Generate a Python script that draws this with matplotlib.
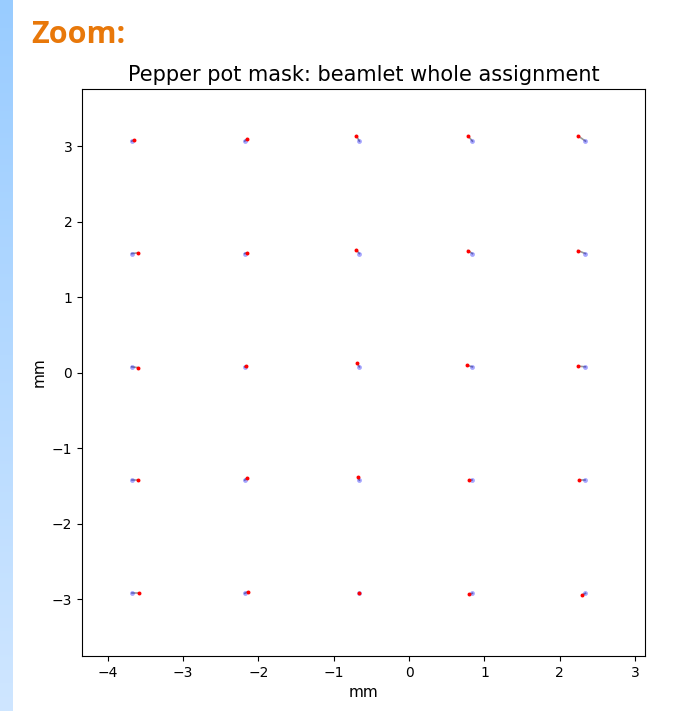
import numpy as np
import matplotlib
matplotlib.use("Agg")
import matplotlib.pyplot as plt
from matplotlib.colors import LinearSegmentedColormap

# Mask hole (reference) grid positions, mm
hole_x = [-3.68, -2.18, -0.66, 0.84, 2.34]
hole_y = [3.07, 1.58, 0.08, -1.42, -2.92]

# Measured beamlet centroids (red), row by row (top to bottom), mm
beam_x = [
    [-3.65, -2.15, -0.70, 0.78, 2.24],
    [-3.60, -2.15, -0.70, 0.78, 2.24],
    [-3.60, -2.16, -0.69, 0.77, 2.24],
    [-3.60, -2.15, -0.68, 0.80, 2.26],
    [-3.58, -2.14, -0.66, 0.80, 2.30],
]
beam_y = [
    [3.08, 3.10, 3.14, 3.14, 3.14],
    [1.59, 1.59, 1.63, 1.62, 1.62],
    [0.07, 0.09, 0.13, 0.10, 0.09],
    [-1.42, -1.39, -1.38, -1.42, -1.42],
    [-2.92, -2.90, -2.91, -2.93, -2.94],
]

fig = plt.figure(figsize=(6.81, 7.11), dpi=100)

# Left gradient strip
strip = fig.add_axes([0, 0, 12 / 681, 1])
cmap = LinearSegmentedColormap.from_list("strip", ["#99CCFF", "#CFE6FF"])
strip.imshow(np.linspace(0, 1, 256).reshape(-1, 1), aspect="auto", cmap=cmap)
strip.axis("off")

fig.text(31 / 681, 1 - 35 / 711, "Zoom:", color="#E8780A", fontsize=22,
         fontweight="bold", family="Open Sans", va="center", ha="left")

ax = fig.add_axes([82 / 681, 1 - 656 / 711, 563 / 681, 567 / 711])

for i, hy in enumerate(hole_y):
    for j, hx in enumerate(hole_x):
        bx, by = beam_x[i][j], beam_y[i][j]
        ax.plot([hx, bx], [hy, by], color="black", alpha=0.4, lw=1.2, zorder=1)

hx_all = [hx for hy in hole_y for hx in hole_x]
hy_all = [hy for hy in hole_y for hx in hole_x]
ax.scatter(hx_all, hy_all, s=12, color="blue", alpha=0.35, lw=0, zorder=2)
bx_all = [v for row in beam_x for v in row]
by_all = [v for row in beam_y for v in row]
ax.scatter(bx_all, by_all, s=8, color="red", lw=0, zorder=3)

ax.set_xlim(-4.34, 3.13)
ax.set_ylim(-3.75, 3.76)
ax.set_xticks([-4, -3, -2, -1, 0, 1, 2, 3])
ax.set_yticks([-3, -2, -1, 0, 1, 2, 3])
ax.set_xlabel("mm", fontsize=11)
ax.set_ylabel("mm", fontsize=11)
ax.set_title("Pepper pot mask: beamlet whole assignment", fontsize=15)

fig.savefig("out.png", dpi=100)
